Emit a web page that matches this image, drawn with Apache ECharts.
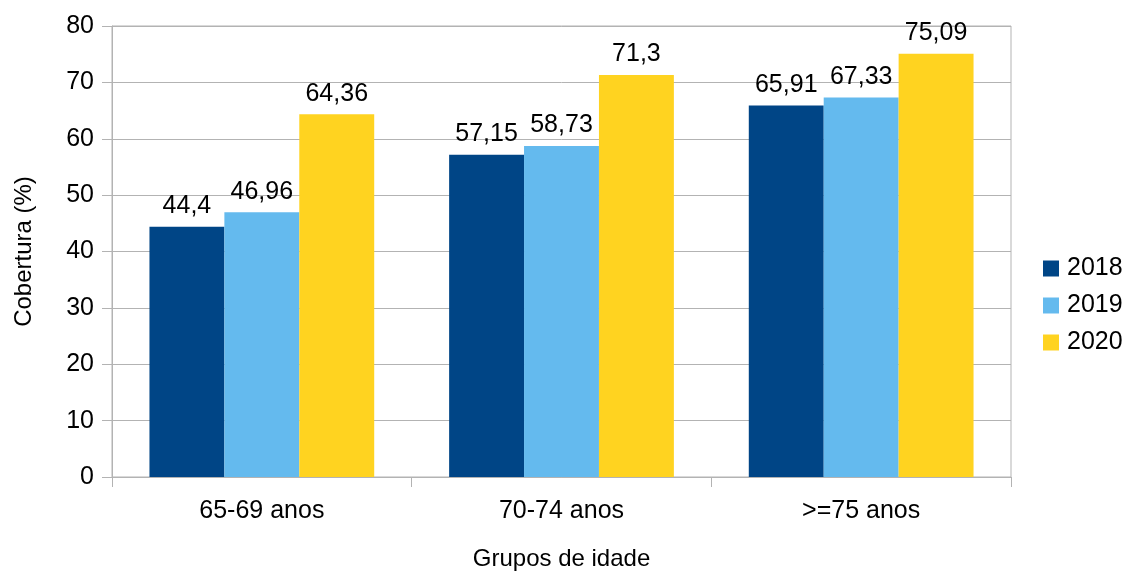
<!DOCTYPE html>
<html>
<head>
<meta charset="utf-8">
<script src="https://cdn.jsdelivr.net/npm/echarts@6/dist/echarts.min.js"></script>
<style>html,body{margin:0;padding:0;background:#fff}#c{width:1128px;height:571px}</style>
</head>
<body>
<div id="c"></div>
<script>
const categories = ['65-69 anos', '70-74 anos', '>=75 anos'];
const seriesNames = ['2018', '2019', '2020'];
const v2018 = [44.4, 57.15, 65.91];
const v2019 = [46.96, 58.73, 67.33];
const v2020 = [64.36, 71.3, 75.09];
const yTicks = [0, 10, 20, 30, 40, 50, 60, 70, 80];
const colors = ['#004586', '#64baee', '#ffd320'];

const FONT = '"Liberation Sans", Arial, sans-serif';
const chart = echarts.init(document.getElementById('c'), null, {renderer: 'canvas'});
const values = [v2018, v2019, v2020];
chart.setOption({
  animation: false,
  textStyle: {fontFamily: FONT},
  grid: {left: 112, right: 117, top: 26, bottom: 94, show: true, borderColor: '#b3b3b3', borderWidth: 1,
         containLabel: false, outerBoundsMode: 'none'},
  legend: {
    orient: 'vertical', left: 1038, top: 251, itemWidth: 16, itemHeight: 16, itemGap: 12,
    icon: 'rect',
    textStyle: {fontSize: 25, color: '#000', fontFamily: FONT, padding: [0, 0, 0, 3]},
    data: seriesNames
  },
  xAxis: {
    type: 'category', data: categories,
    name: 'Grupos de idade', nameLocation: 'middle', nameGap: 70,
    nameTextStyle: {fontSize: 24, color: '#000', fontFamily: FONT},
    axisLine: {lineStyle: {color: '#b3b3b3'}},
    axisTick: {show: true, length: 10, lineStyle: {color: '#b3b3b3'}},
    axisLabel: {fontSize: 25, color: '#000', margin: 22, fontFamily: FONT}
  },
  yAxis: {
    type: 'value', min: yTicks[0], max: yTicks[yTicks.length - 1], interval: 10,
    name: 'Cobertura (%)', nameLocation: 'middle', nameGap: 76,
    nameTextStyle: {fontSize: 24, color: '#000', fontFamily: FONT},
    axisLine: {show: true, lineStyle: {color: '#b3b3b3'}},
    axisTick: {show: true, length: 10, lineStyle: {color: '#b3b3b3'}},
    splitLine: {lineStyle: {color: '#b3b3b3'}},
    axisLabel: {fontSize: 25, color: '#000', margin: 18, fontFamily: FONT}
  },
  series: seriesNames.map((n, i) => ({
    name: n, type: 'bar', data: values[i],
    barGap: '0%', barCategoryGap: '25%',
    itemStyle: {color: colors[i]},
    label: {
      show: true, position: 'top', distance: 8, fontSize: 25, color: '#000', fontFamily: FONT,
      formatter: p => String(p.value).replace('.', ',')
    }
  }))
});
</script>
</body>
</html>
